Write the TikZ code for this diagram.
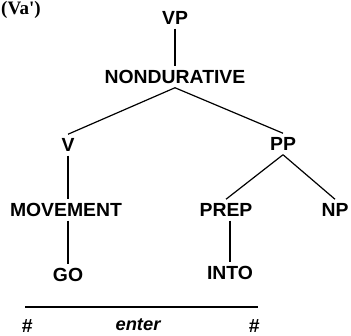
\documentclass[tikz,border=0pt]{standalone}
\usepackage{fontspec}
\newfontfamily\treefont[FakeStretch=1.02]{Liberation Sans}
\newfontfamily\headfont{Liberation Serif}

\begin{document}
\begin{tikzpicture}[x=1pt, y=-1pt,
	cat/.style={font=\treefont\bfseries\fontsize{19}{19}\selectfont, inner sep=0pt, outer sep=4pt, text height=13.5pt, text depth=0pt},
	bound/.style={font=\treefont\bfseries\itshape\fontsize{18}{18}\selectfont, inner sep=0pt},
	branch/.style={line width=1.2pt}]
\useasboundingbox (0,0) rectangle (351,336);
\node[anchor=base west, font=\headfont\bfseries\fontsize{19}{19}\selectfont, inner sep=0pt] (title) at (1,15) {(Va')};

\node[cat] (vp) at (175,18) {VP};
\node[cat] (nondur) at (175,77) {NONDURATIVE};
\node[cat] (v) at (68,145) {V};
\node[cat] (pp) at (283,144) {PP};
\node[cat] (movement) at (66,210) {MOVEMENT};
\node[cat] (prep) at (226,210) {PREP};
\node[cat] (np) at (335,210) {NP};
\node[cat] (go) at (68,275) {GO};
\node[cat] (into) at (230,273) {INTO};

\draw[branch] (vp) -- (nondur);
\draw[branch] (nondur.south) -- (v.north);
\draw[branch] (nondur.south) -- (pp.north);
\draw[branch] (v.south) -- (v.south |- movement.north);
\draw[branch] (pp.south) -- (prep.north);
\draw[branch] (pp.south) -- (np.north);
\draw[branch] (go.north |- movement.south) -- (go.north);
\draw[branch] (into.north |- prep.south) -- (into.north);

\coordinate (bar-l) at (25,307);
\coordinate (bar-r) at (258,307);
\draw[line width=1.5pt] (bar-l) -- (bar-r);

\node[bound, font=\treefont\bfseries\itshape\fontsize{19}{19}\selectfont] (hash-l) at (27,326) {\#};
\node[bound] (word) at (138,325) {enter};
\node[bound, font=\treefont\bfseries\itshape\fontsize{19}{19}\selectfont] (hash-r) at (254,326) {\#};
\end{tikzpicture}
\end{document}
